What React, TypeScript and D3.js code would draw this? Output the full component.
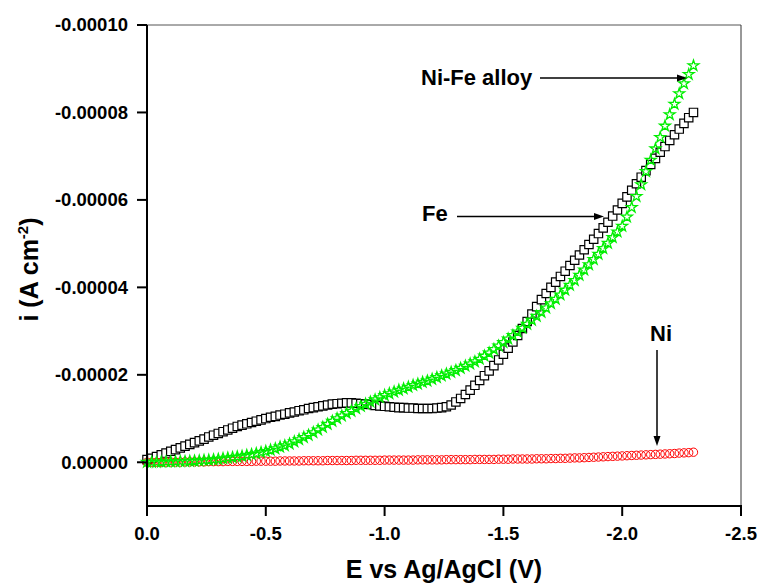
import * as d3 from "d3";

// applied potential (V vs Ag/AgCl)
const potential = [
  0.0, -0.02, -0.04, -0.06, -0.08, -0.1, -0.12, -0.14, -0.16, -0.18,
  -0.2, -0.22, -0.24, -0.26, -0.28, -0.3, -0.32, -0.34, -0.36, -0.38,
  -0.4, -0.42, -0.44, -0.46, -0.48, -0.5, -0.52, -0.54, -0.56, -0.58,
  -0.6, -0.62, -0.64, -0.66, -0.68, -0.7, -0.72, -0.74, -0.76, -0.78,
  -0.8, -0.82, -0.84, -0.86, -0.88, -0.9, -0.92, -0.94, -0.96, -0.98,
  -1.0, -1.02, -1.04, -1.06, -1.08, -1.1, -1.12, -1.14, -1.16, -1.18,
  -1.2, -1.22, -1.24, -1.26, -1.28, -1.3, -1.32, -1.34, -1.36, -1.38,
  -1.4, -1.42, -1.44, -1.46, -1.48, -1.5, -1.52, -1.54, -1.56, -1.58,
  -1.6, -1.62, -1.64, -1.66, -1.68, -1.7, -1.72, -1.74, -1.76, -1.78,
  -1.8, -1.82, -1.84, -1.86, -1.88, -1.9, -1.92, -1.94, -1.96, -1.98,
  -2.0, -2.02, -2.04, -2.06, -2.08, -2.1, -2.12, -2.14, -2.16, -2.18,
  -2.2, -2.22, -2.24, -2.26, -2.28, -2.3,
];

// cathodic current, in µA cm-2 (sign applied below)
const feCurrent = [
  0.6, 0.9, 1.3, 1.7, 2.1, 2.5, 2.9, 3.3, 3.7, 4.1,
  4.5, 4.9, 5.3, 5.8, 6.2, 6.6, 7.0, 7.4, 7.8, 8.2,
  8.5, 8.8, 9.1, 9.4, 9.7, 10.0, 10.3, 10.5, 10.8, 11.0,
  11.3, 11.5, 11.8, 12.0, 12.3, 12.5, 12.7, 12.9, 13.1, 13.3,
  13.4, 13.5, 13.6, 13.6, 13.5, 13.4, 13.3, 13.2, 13.0, 12.9,
  12.8, 12.7, 12.6, 12.5, 12.5, 12.4, 12.4, 12.3, 12.3, 12.3,
  12.3, 12.4, 12.5, 12.7, 13.1, 13.8, 14.6, 15.5, 16.5, 17.6,
  18.7, 19.8, 20.9, 22.1, 23.4, 24.7, 26.1, 27.5, 29.0, 30.6,
  32.2, 33.9, 35.6, 37.2, 38.6, 40.0, 41.2, 42.5, 43.7, 45.0,
  46.2, 47.4, 48.6, 49.8, 51.0, 52.3, 53.6, 54.9, 56.3, 57.7,
  59.2, 60.7, 62.2, 63.7, 65.2, 66.7, 68.1, 69.5, 70.9, 72.2,
  73.6, 74.9, 76.2, 77.5, 78.8, 80.0,
];

const niCurrent = [
  0.0, 0.0, 0.0, 0.0, 0.05, 0.05, 0.05, 0.05, 0.1, 0.1,
  0.1, 0.1, 0.1, 0.15, 0.15, 0.15, 0.15, 0.2, 0.2, 0.2,
  0.2, 0.2, 0.2, 0.25, 0.25, 0.25, 0.25, 0.25, 0.3, 0.3,
  0.3, 0.3, 0.3, 0.35, 0.35, 0.35, 0.35, 0.35, 0.4, 0.4,
  0.4, 0.4, 0.4, 0.4, 0.45, 0.45, 0.45, 0.45, 0.45, 0.45,
  0.5, 0.5, 0.5, 0.5, 0.5, 0.5, 0.5, 0.55, 0.55, 0.55,
  0.55, 0.55, 0.55, 0.6, 0.6, 0.6, 0.6, 0.6, 0.6, 0.65,
  0.65, 0.65, 0.65, 0.65, 0.7, 0.7, 0.7, 0.75, 0.75, 0.75,
  0.75, 0.75, 0.8, 0.8, 0.8, 0.85, 0.85, 0.9, 0.9, 0.95,
  1.0, 1.0, 1.05, 1.1, 1.15, 1.2, 1.25, 1.3, 1.35, 1.4,
  1.45, 1.5, 1.55, 1.6, 1.65, 1.7, 1.75, 1.8, 1.85, 1.9,
  1.95, 2.0, 2.1, 2.15, 2.2, 2.3,
];

const alloyCurrent = [
  0.0, 0.0, 0.0, 0.05, 0.1, 0.1, 0.15, 0.2, 0.2, 0.25,
  0.3, 0.35, 0.45, 0.5, 0.6, 0.7, 0.85, 1.0, 1.1, 1.25,
  1.4, 1.6, 1.8, 2.0, 2.25, 2.5, 2.8, 3.1, 3.5, 3.8,
  4.2, 4.7, 5.2, 5.7, 6.2, 6.8, 7.4, 8.0, 8.7, 9.4,
  10.0, 10.6, 11.2, 11.7, 12.3, 12.8, 13.3, 13.8, 14.3, 14.8,
  15.3, 15.7, 16.1, 16.5, 16.8, 17.2, 17.6, 17.9, 18.3, 18.6,
  19.0, 19.4, 19.8, 20.2, 20.6, 21.0, 21.5, 22.0, 22.5, 23.0,
  23.6, 24.3, 25.0, 25.8, 26.6, 27.4, 28.2, 29.0, 29.8, 30.7,
  31.6, 32.5, 33.4, 34.3, 35.3, 36.3, 37.3, 38.3, 39.4, 40.5,
  41.6, 42.8, 44.0, 45.2, 46.4, 47.6, 48.9, 50.1, 51.4, 52.7,
  54.0, 56.1, 58.3, 60.8, 63.5, 66.5, 69.1, 71.7, 74.3, 76.9,
  79.5, 81.9, 84.3, 86.6, 88.7, 90.7,
];

const xTicks = [0, -0.5, -1.0, -1.5, -2.0, -2.5];
const yTicks = [0, -0.00002, -0.00004, -0.00006, -0.00008, -0.0001];

const W = 759;
const H = 586;
const FONT = "'Liberation Sans', Arial, sans-serif";

export default function App() {
  const x = d3.scaleLinear().domain([0, -2.5]).range([147, 741]);
  const y = d3.scaleLinear().domain([0.00001, -0.0001]).range([506, 25]);

  const toPoints = (vals: number[]) =>
    potential.map((e, i) => ({ e, i: -vals[i] * 1e-6 }));

  const fe = toPoints(feCurrent);
  const ni = toPoints(niCurrent);
  const alloy = toPoints(alloyCurrent);

  const square = d3.symbol(d3.symbolSquare, 70)()!;
  const circle = d3.symbol(d3.symbolCircle, 55)()!;
  const star = d3.symbol(d3.symbolStar, 36)()!;

  const [x0, x1] = x.range();
  const [yb, yt] = y.range();

  return (
    <svg
      width={W}
      height={H}
      style={{ position: "absolute", left: 0, top: 0, background: "#fff" }}
      fontFamily={FONT}
      fontWeight="bold"
    >
      {/* frame */}
      <line x1={x0} x2={x1} y1={yt} y2={yt} stroke="#555" strokeWidth={1} />
      <line x1={x1} x2={x1} y1={yt} y2={yb} stroke="#333" strokeWidth={1} />

      {/* Fe squares */}
      <g>
        {fe.map((d, k) => (
          <path
            key={k}
            d={square}
            transform={`translate(${x(d.e)},${y(d.i)})`}
            fill="#fff"
            stroke="#000"
            strokeWidth={1.2}
          />
        ))}
      </g>
      {/* Ni circles */}
      <g>
        {ni.map((d, k) => (
          <path
            key={k}
            d={circle}
            transform={`translate(${x(d.e)},${y(d.i)})`}
            fill="none"
            stroke="#ff0000"
            strokeWidth={1}
          />
        ))}
      </g>
      {/* Ni-Fe alloy stars */}
      <g>
        {alloy.map((d, k) => (
          <path
            key={k}
            d={star}
            transform={`translate(${x(d.e)},${y(d.i)})`}
            fill="none"
            stroke="#00ee00"
            strokeWidth={1.3}
          />
        ))}
      </g>

      {/* axes */}
      <line x1={x0} x2={x0} y1={yt} y2={yb + 1} stroke="#000" strokeWidth={2} />
      <line x1={x0 - 1} x2={x1 + 1} y1={yb} y2={yb} stroke="#000" strokeWidth={2} />
      {yTicks.map((t) => (
        <g key={t} transform={`translate(0,${y(t)})`}>
          <line x1={x0 - 10} x2={x0} stroke="#000" strokeWidth={2} />
          <text x={128} dy="0.35em" textAnchor="end" fontSize={18.5}>
            {t.toFixed(5)}
          </text>
        </g>
      ))}
      {xTicks.map((t) => (
        <g key={t} transform={`translate(${x(t)},0)`}>
          <line y1={yb} y2={yb + 10} stroke="#000" strokeWidth={2} />
          <text y={540} textAnchor="middle" fontSize={18.5}>
            {t.toFixed(1)}
          </text>
        </g>
      ))}

      {/* axis titles */}
      <text x={(x0 + x1) / 2} y={578} textAnchor="middle" fontSize={25}>
        E vs Ag/AgCl (V)
      </text>
      <text
        transform={`translate(38,${(yt + yb) / 2 + 4}) rotate(-90)`}
        textAnchor="middle"
        fontSize={25}
      >
        i (A cm
        <tspan dy={-10} fontSize={15}>
          -2
        </tspan>
        <tspan dy={10}>)</tspan>
      </text>

      {/* annotations */}
      <text x={421} y={85} fontSize={22}>
        Ni-Fe alloy
      </text>
      <line x1={540} x2={678} y1={78} y2={78} stroke="#000" strokeWidth={1.5} />
      <path d="M687,78 L677,74.5 L677,81.5 Z" fill="#000" />

      <text x={422} y={221} fontSize={22}>
        Fe
      </text>
      <line x1={457} x2={595} y1={216.5} y2={216.5} stroke="#000" strokeWidth={1.5} />
      <path d="M604,216.5 L594,213 L594,220 Z" fill="#000" />

      <text x={661} y={341} textAnchor="middle" fontSize={22}>
        Ni
      </text>
      <line x1={657} x2={657} y1={350} y2={437} stroke="#000" strokeWidth={1.5} />
      <path d="M657,446 L653.5,436 L660.5,436 Z" fill="#000" />
    </svg>
  );
}
